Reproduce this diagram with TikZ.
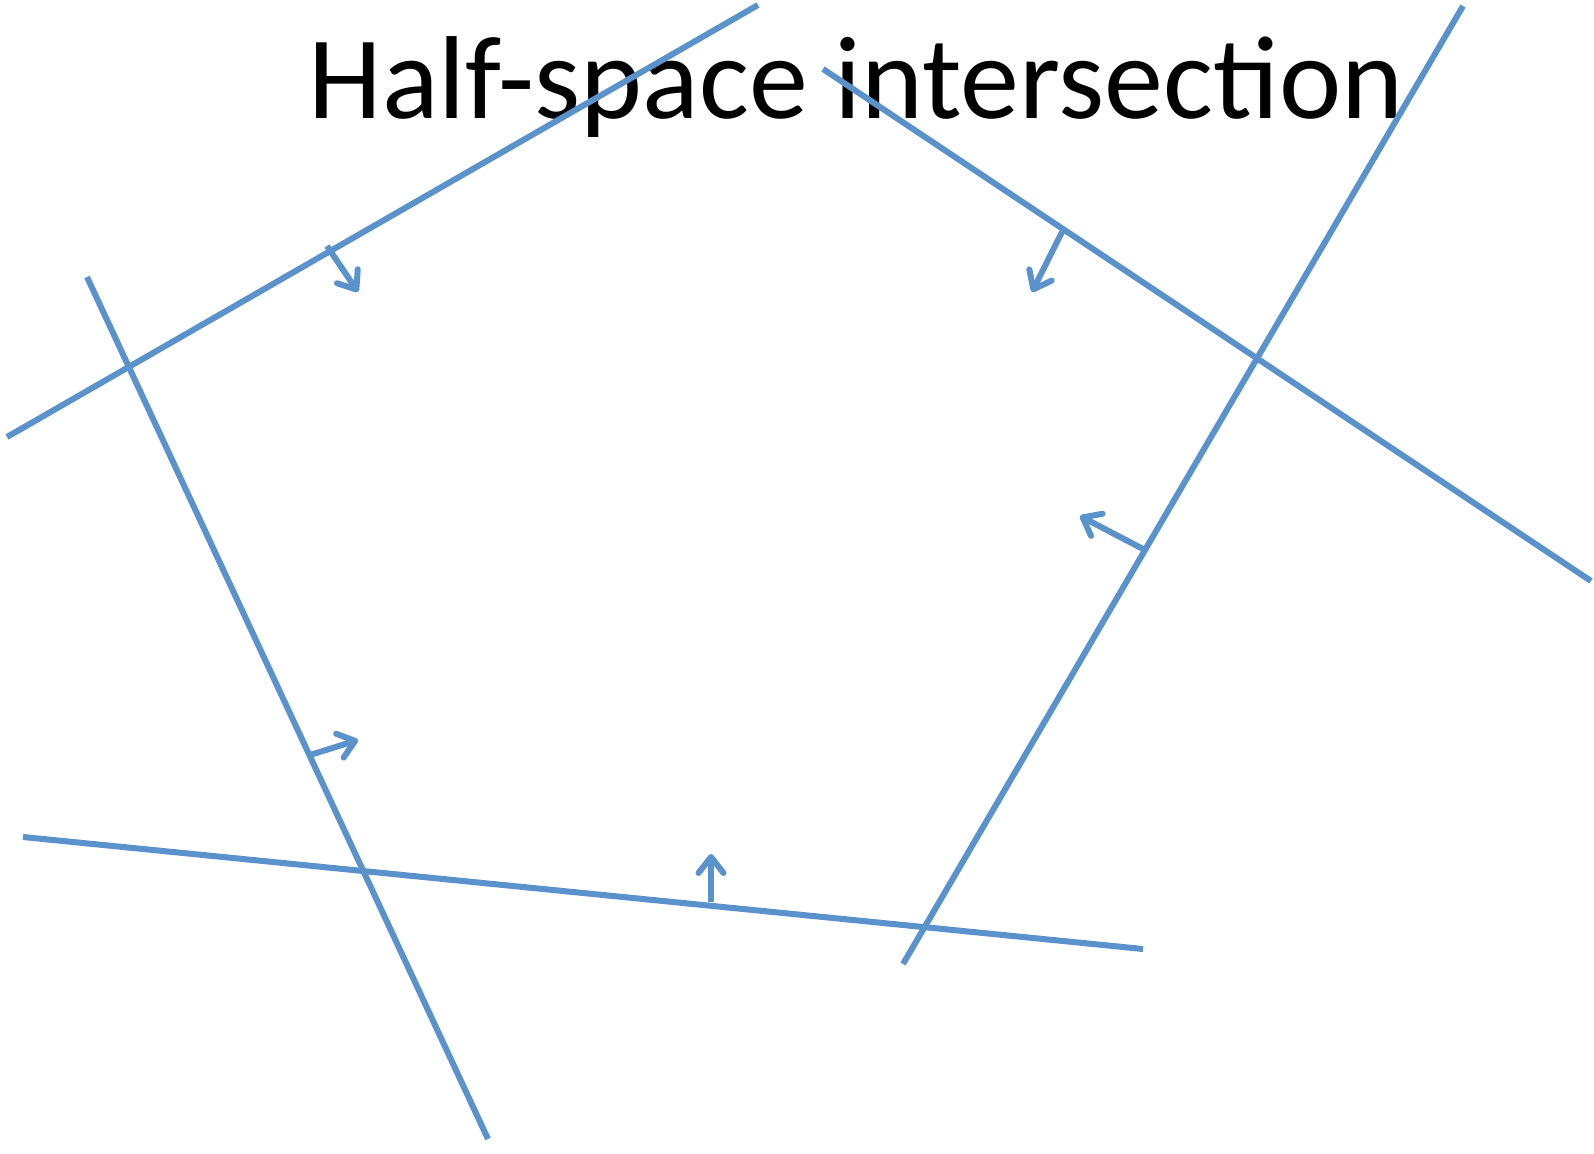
\documentclass[tikz,border=0pt]{standalone}
\usepackage{fontspec}
\setmainfont{Carlito}
\usetikzlibrary{arrows.meta}
\definecolor{cL}{HTML}{5A92CB}

\begin{document}
\begin{tikzpicture}[x=1pt,y=-1pt,
  bound/.style={line width=6pt,cL},
  normal/.style={line width=6pt,cL,-{Straight Barb[length=16pt,width=25pt,line width=6pt,round]}}]
\useasboundingbox (0,0) rectangle (1594,1153);
% --- title ---
\node[anchor=base,font=\fontsize{118}{120}\selectfont] (title) at (856,119) {Half-space intersection};
% --- bounding lines ---
\coordinate (l1a) at (7,437);   \coordinate (l1b) at (758,5);
\coordinate (l2a) at (87,277);  \coordinate (l2b) at (488,1139);
\coordinate (l3a) at (23,837);  \coordinate (l3b) at (1143,949);
\coordinate (l4a) at (903,964); \coordinate (l4b) at (1463,6);
\coordinate (l5a) at (823,69);  \coordinate (l5b) at (1591,581);
\draw[bound] (l1a) -- (l1b);
\draw[bound] (l2a) -- (l2b);
\draw[bound] (l3a) -- (l3b);
\draw[bound] (l4a) -- (l4b);
\draw[bound] (l5a) -- (l5b);
% --- inward normals ---
\coordinate (n1a) at (327,246);  \coordinate (n1b) at (358,292);
\coordinate (n2a) at (1062,232); \coordinate (n2b) at (1032,292);
\coordinate (n3a) at (1143,549); \coordinate (n3b) at (1080,516);
\coordinate (n4a) at (310,755);  \coordinate (n4b) at (358,740);
\coordinate (n5a) at (711,902);  \coordinate (n5b) at (711,854);
\draw[normal] (n1a) -- (n1b);
\draw[normal] (n2a) -- (n2b);
\draw[normal] (n3a) -- (n3b);
\draw[normal] (n4a) -- (n4b);
\draw[normal] (n5a) -- (n5b);
\end{tikzpicture}
\end{document}
